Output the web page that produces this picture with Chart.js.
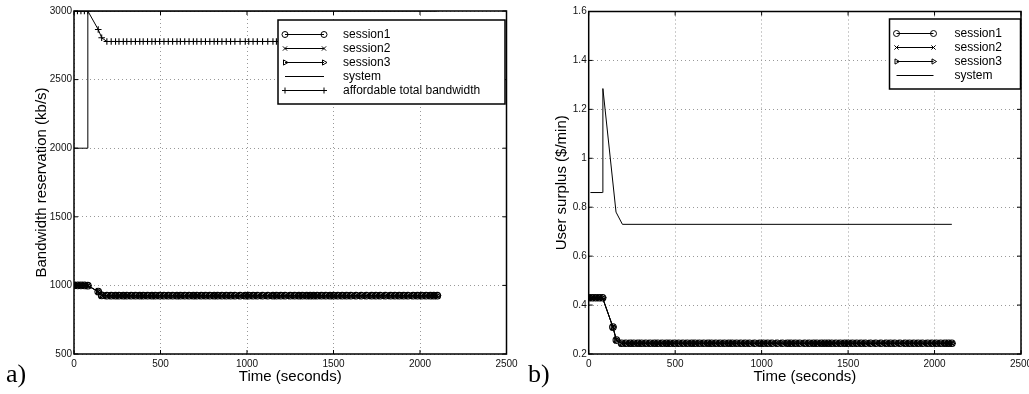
<!DOCTYPE html>
<html>
<head>
<meta charset="utf-8">
<script src="https://cdn.jsdelivr.net/npm/chart.js@4/dist/chart.umd.min.js"></script>
<style>
  body { margin: 0; width: 1029px; height: 394px; position: relative; background: #fff; overflow: hidden; }
  canvas { position: absolute; top: 0; }
  .panel { position: absolute; font-family: 'Liberation Serif', 'Times New Roman', serif; font-size: 26px; line-height: 26px; color: #000; }
</style>
</head>
<body>
<canvas id="bw" width="528" height="394" style="left:0"></canvas>
<canvas id="us" width="501" height="394" style="left:528px"></canvas>
<div class="panel" style="left:6px; top:361px">a)</div>
<div class="panel" style="left:528px; top:361px">b)</div>
<script>
// event times (s) where the sessions / affordable bandwidth are sampled
const times = [0, 20, 40, 60, 80, 140, 160, 190,
  215, 240, 260, 285, 305, 330, 355, 380, 400, 425, 450,
  470, 495, 520, 545, 570, 595, 615, 640, 665, 690, 710,
  735, 760, 785, 810, 830, 855, 880, 905, 930, 960, 990,
  1010, 1035, 1060, 1090, 1120, 1150, 1170, 1195, 1220, 1250, 1275,
  1300, 1320, 1345, 1365, 1385, 1405, 1430, 1455, 1480, 1500, 1525,
  1550, 1575, 1600, 1630, 1660, 1690, 1720, 1745, 1770, 1800, 1830,
  1855, 1880, 1905, 1930, 1960, 1985, 2010, 2035, 2060, 2080, 2100];

// a) bandwidth reservation (kb/s) - the three sessions overlap
const sessionBw = [1000, 1000, 1000, 1000, 998, 955, 927, 925,
  925, 925, 925, 925, 925, 925, 925, 925, 925, 925, 925,
  925, 925, 925, 925, 925, 925, 925, 925, 925, 925, 925,
  925, 925, 925, 925, 925, 925, 925, 925, 925, 925, 925,
  925, 925, 925, 925, 925, 925, 925, 925, 925, 925, 925,
  925, 925, 925, 925, 925, 925, 925, 925, 925, 925, 925,
  925, 925, 925, 925, 925, 925, 925, 925, 925, 925, 925,
  925, 925, 925, 925, 925, 925, 925, 925, 925, 925, 925];
const affordableBw = [3000, 3000, 3000, 3000, 3000, 2865, 2805, 2778,
  2778, 2778, 2778, 2778, 2778, 2778, 2778, 2778, 2778, 2778, 2778,
  2778, 2778, 2778, 2778, 2778, 2778, 2778, 2778, 2778, 2778, 2778,
  2778, 2778, 2778, 2778, 2778, 2778, 2778, 2778, 2778, 2778, 2778,
  2778, 2778, 2778, 2778, 2778, 2778, 2778, 2778, 2778, 2778, 2778,
  2778, 2778, 2778, 2778, 2778, 2778, 2778, 2778, 2778, 2778, 2778,
  2778, 2778, 2778, 2778, 2778, 2778, 2778, 2778, 2778, 2778, 2778,
  2778, 2778, 2778, 2778, 2778, 2778, 2778, 2778, 2778, 2778, 2778];
const systemBwTimes = [0, 80, 80, 2100];
const systemBw = [2000, 2000, 3000, 3000];

// b) user surplus ($/min)
const sessionSurplus = [0.43, 0.43, 0.43, 0.43, 0.43, 0.31, 0.257, 0.244,
  0.244, 0.244, 0.244, 0.244, 0.244, 0.244, 0.244, 0.244, 0.244, 0.244, 0.244,
  0.244, 0.244, 0.244, 0.244, 0.244, 0.244, 0.244, 0.244, 0.244, 0.244, 0.244,
  0.244, 0.244, 0.244, 0.244, 0.244, 0.244, 0.244, 0.244, 0.244, 0.244, 0.244,
  0.244, 0.244, 0.244, 0.244, 0.244, 0.244, 0.244, 0.244, 0.244, 0.244, 0.244,
  0.244, 0.244, 0.244, 0.244, 0.244, 0.244, 0.244, 0.244, 0.244, 0.244, 0.244,
  0.244, 0.244, 0.244, 0.244, 0.244, 0.244, 0.244, 0.244, 0.244, 0.244, 0.244,
  0.244, 0.244, 0.244, 0.244, 0.244, 0.244, 0.244, 0.244, 0.244, 0.244, 0.244];
const systemSurplusTimes = [10, 80, 82, 158, 195, 2100];
const systemSurplus = [0.86, 0.86, 1.285, 0.78, 0.73, 0.73];

// axes
const timeTicks = [0, 500, 1000, 1500, 2000, 2500];
const timeTickLabels = ['0', '500', '1000', '1500', '2000', '2500'];
const bwTicks = [500, 1000, 1500, 2000, 2500, 3000];
const bwTickLabels = ['500', '1000', '1500', '2000', '2500', '3000'];
const surplusTicks = [0.2, 0.4, 0.6, 0.8, 1, 1.2, 1.4, 1.6];
const surplusTickLabels = ['0.2', '0.4', '0.6', '0.8', '1', '1.2', '1.4', '1.6'];

Chart.defaults.font.family = "'Liberation Sans', Arial, Helvetica, sans-serif";
Chart.defaults.font.size = 10;
Chart.defaults.color = '#111';

const pts = (xs, ys) => xs.map((x, i) => ({ x: x, y: ys[i] }));

const series = (label, data, style, rot) => ({
    label: label,
    data: data,
    borderColor: '#000',
    borderWidth: 1,
    pointStyle: style || 'circle',
    pointRotation: rot || 0,
    pointRadius: style ? 3.3 : 0,
    pointBorderColor: '#000',
    pointBackgroundColor: 'rgba(0,0,0,0)',
    pointBorderWidth: 1.1,
    noMarker: !style,
    tension: 0
});

function drawMarker(ctx, style, rot, x, y) {
    ctx.fillStyle = 'rgba(0,0,0,0)';
    ctx.strokeStyle = '#000';
    ctx.lineWidth = 1;
    if (Chart.helpers && Chart.helpers.drawPoint) {
        Chart.helpers.drawPoint(ctx, { pointStyle: style, rotation: rot, radius: 3, borderWidth: 1 }, x, y);
        return;
    }
    ctx.beginPath();
    ctx.arc(x, y, 3, 0, Math.PI * 2);
    ctx.stroke();
}

// MATLAB look: box frame, inward ticks and a legend inside the plot
const matlabBox = {
    id: 'matlabBox',
    afterDatasetsDraw(chart, args, opts) {
        const { ctx, chartArea: a, scales: { x, y } } = chart;
        ctx.save();
        ctx.strokeStyle = '#000';
        ctx.lineWidth = 1;
        ctx.beginPath();
        x.ticks.forEach(t => {
            const px = x.getPixelForValue(t.value);
            ctx.moveTo(px, a.bottom); ctx.lineTo(px, a.bottom - 4);
            ctx.moveTo(px, a.top); ctx.lineTo(px, a.top + 4);
        });
        y.ticks.forEach(t => {
            const py = y.getPixelForValue(t.value);
            ctx.moveTo(a.left, py); ctx.lineTo(a.left + 4, py);
            ctx.moveTo(a.right, py); ctx.lineTo(a.right - 4, py);
        });
        ctx.stroke();
        ctx.lineWidth = 1.5;
        ctx.strokeRect(a.left, a.top, a.right - a.left, a.bottom - a.top);

        // legend
        const sets = chart.data.datasets;
        const bx = a.right - opts.gap - opts.width;
        const by = a.top + opts.top;
        const bh = opts.rowH * sets.length + 14;
        ctx.fillStyle = '#fff';
        ctx.fillRect(bx, by, opts.width, bh);
        ctx.lineWidth = 1.5;
        ctx.strokeRect(bx, by, opts.width, bh);
        ctx.font = "12px 'Liberation Sans', Arial, sans-serif";
        ctx.textBaseline = 'middle';
        ctx.textAlign = 'left';
        sets.forEach((ds, i) => {
            const ry = by + 14.5 + i * opts.rowH;
            const x0 = bx + 7;
            const x1 = bx + opts.lineW + 7;
            ctx.strokeStyle = '#000';
            ctx.lineWidth = 1;
            ctx.beginPath();
            ctx.moveTo(x0, ry); ctx.lineTo(x1, ry);
            ctx.stroke();
            if (!ds.noMarker) {
                drawMarker(ctx, ds.pointStyle, ds.pointRotation, x0, ry);
                drawMarker(ctx, ds.pointStyle, ds.pointRotation, x1, ry);
            }
            ctx.fillStyle = '#000';
            ctx.fillText(ds.label, bx + opts.textX, ry + 0.5);
        });
        ctx.restore();
    }
};

function axes(yMin, yMax, yTicks, yLabels, yTitle, yWidth, yTitlePad) {
    return {
        x: {
            type: 'linear',
            min: 0,
            max: 2500,
            afterBuildTicks: s => { s.ticks = timeTicks.map(v => ({ value: v })); },
            afterFit: s => { s.height = 40; s.paddingLeft = 0; s.paddingRight = 0; },
            grid: { color: '#999', borderDash: [1, 3], drawTicks: false },
            border: { display: false, dash: [1, 3] },
            ticks: { padding: 4, maxRotation: 0, color: '#111', callback: (v, i) => timeTickLabels[i] },
            title: { display: true, text: 'Time (seconds)', font: { size: 15 }, color: '#000', padding: { top: 0, bottom: 8 } }
        },
        y: {
            type: 'linear',
            min: yMin,
            max: yMax,
            afterBuildTicks: s => { s.ticks = yTicks.map(v => ({ value: v })); },
            afterFit: s => { s.width = yWidth; s.paddingTop = 0; s.paddingBottom = 0; },
            grid: { color: '#999', borderDash: [1, 3], drawTicks: false },
            border: { display: false, dash: [1, 3] },
            ticks: { padding: 2, color: '#111', callback: (v, i) => yLabels[i] },
            title: { display: true, text: yTitle, font: { size: 15 }, color: '#000', padding: { top: yTitlePad, bottom: 0 } }
        }
    };
}

const common = {
    responsive: false,
    animation: false,
    events: [],
    plugins: { legend: { display: false }, tooltip: { enabled: false } }
};

new Chart(document.getElementById('bw'), {
    type: 'line',
    data: {
        datasets: [
            series('session1', pts(times, sessionBw), 'circle'),
            series('session2', pts(times, sessionBw), 'crossRot'),
            series('session3', pts(times, sessionBw), 'triangle', 90),
            series('system', pts(systemBwTimes, systemBw)),
            series('affordable total bandwidth', pts(times, affordableBw), 'cross')
        ]
    },
    options: Object.assign({}, common, {
        layout: { padding: { top: 11, right: 21.5, left: 0, bottom: 0 } },
        scales: axes(500, 3000, bwTicks, bwTickLabels, 'Bandwidth reservation (kb/s)', 74, 33),
        plugins: Object.assign({}, common.plugins, {
            matlabBox: { width: 227, gap: 1.5, top: 9, rowH: 14, lineW: 39, textX: 65 }
        })
    }),
    plugins: [matlabBox]
});

new Chart(document.getElementById('us'), {
    type: 'line',
    data: {
        datasets: [
            series('session1', pts(times, sessionSurplus), 'circle'),
            series('session2', pts(times, sessionSurplus), 'crossRot'),
            series('session3', pts(times, sessionSurplus), 'triangle', 90),
            series('system', pts(systemSurplusTimes, systemSurplus))
        ]
    },
    options: Object.assign({}, common, {
        layout: { padding: { top: 11.5, right: 8, left: 0, bottom: 0 } },
        scales: axes(0.2, 1.6, surplusTicks, surplusTickLabels, 'User surplus ($/min)', 60.7, 24.5),
        plugins: Object.assign({}, common.plugins, {
            matlabBox: { width: 131, gap: 0.5, top: 7.5, rowH: 14, lineW: 37, textX: 65 }
        })
    }),
    plugins: [matlabBox]
});
</script>
</body>
</html>
